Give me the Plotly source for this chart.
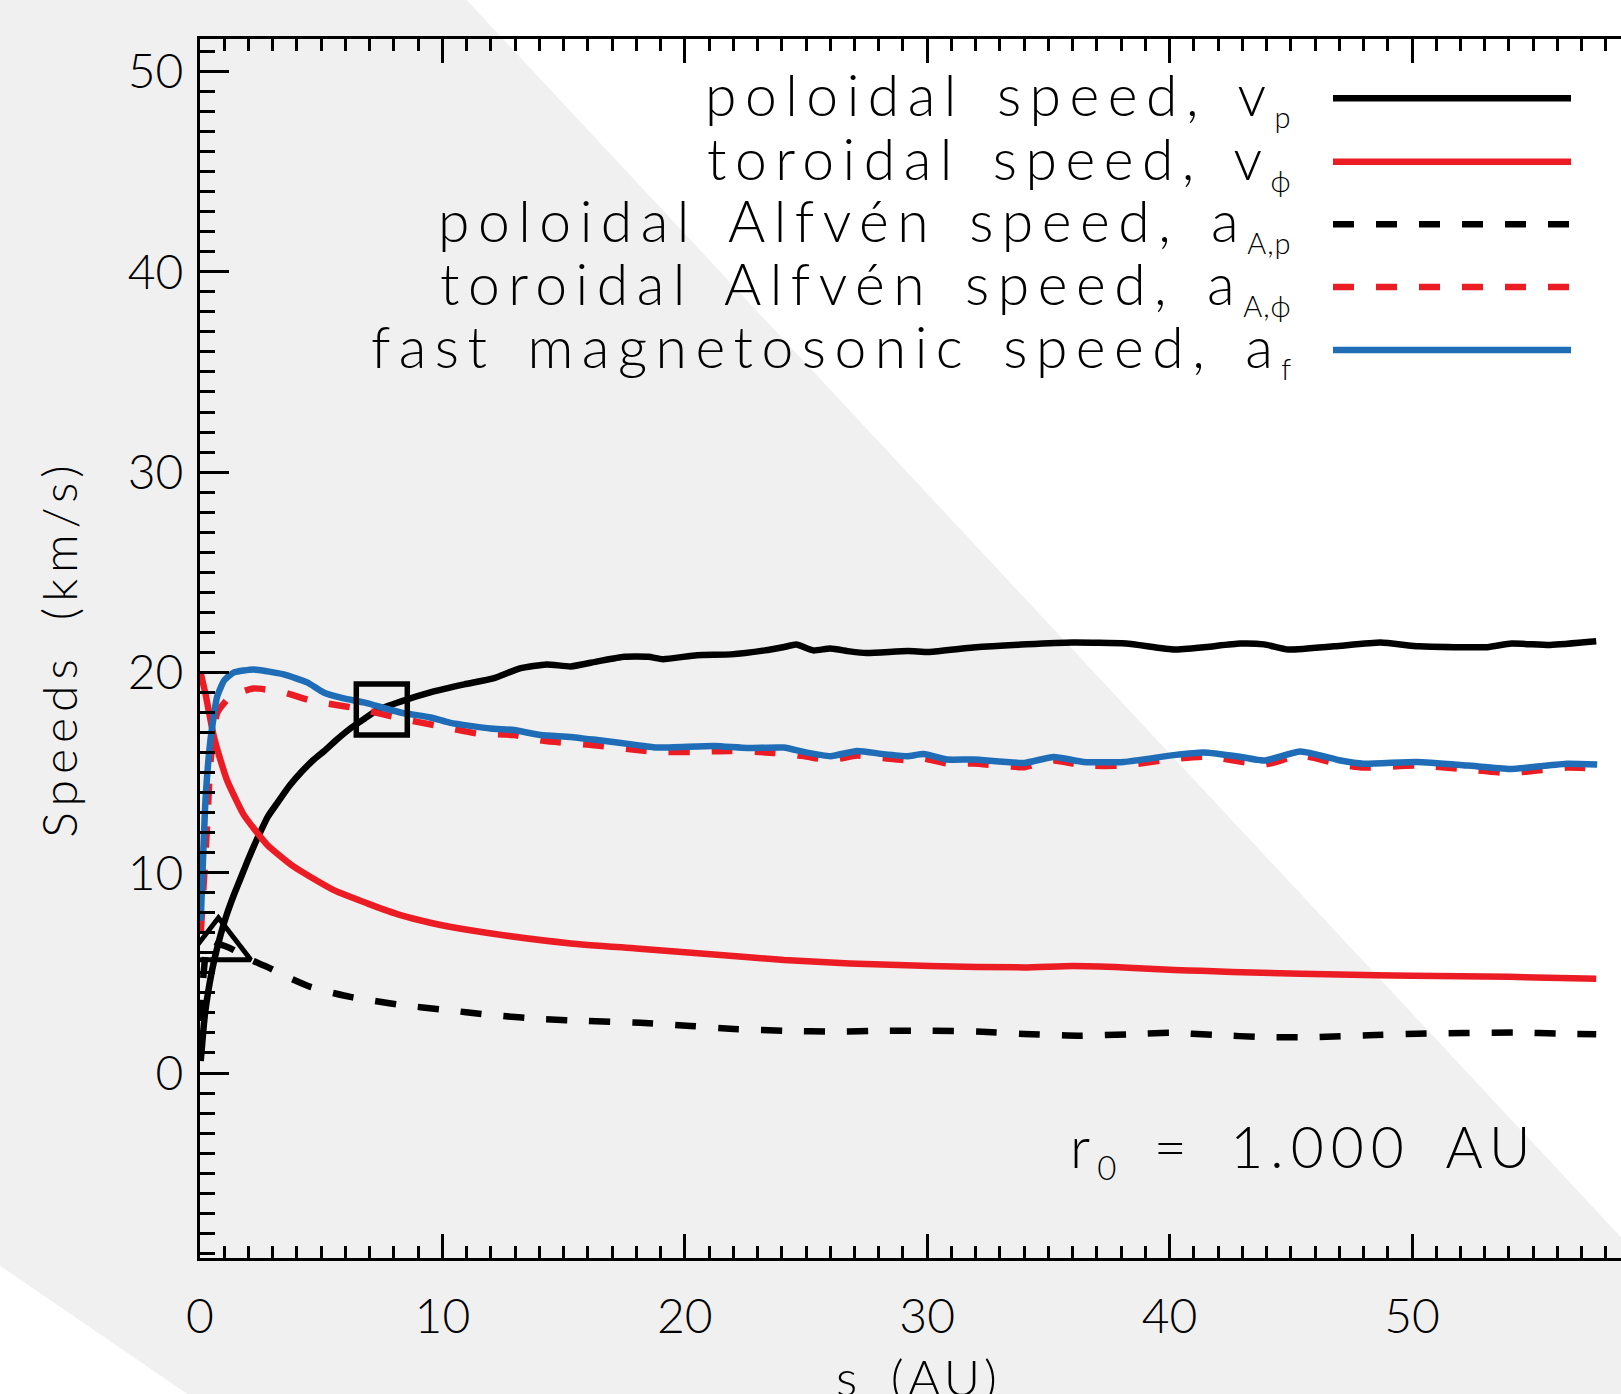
import plotly.graph_objects as go

# ---------------- data ----------------
s_vp = [0.03, 0.2, 0.4, 0.6, 0.85, 1.1, 1.4, 1.7, 2.0, 2.4, 2.8, 3.2, 3.7, 4.2, 4.7, 5.1, 5.6, 6.2, 6.8, 7.3,
        8.3, 9.5, 10.9, 12.1, 13.2, 14.3, 15.3, 16.4, 17.5, 18.5, 19.1, 20.5, 21.9, 23.3, 24.1, 24.6, 25.3, 26.0,
        26.8, 27.5, 29.2, 30.1, 31.9, 34.1, 36.0, 38.2, 40.2, 41.5, 42.9, 43.9, 44.9, 46.8, 48.7, 50.3, 53.1,
        54.1, 55.7, 57.6]
v_p = [0.6, 2.9, 4.5, 5.7, 6.9, 7.9, 8.9, 9.8, 10.7, 11.8, 12.8, 13.5, 14.35, 15.05, 15.65, 16.05, 16.6, 17.2, 17.7, 18.1,
       18.55, 19.0, 19.4, 19.7, 20.2, 20.4, 20.3, 20.55, 20.78, 20.78, 20.66, 20.86, 20.9, 21.1, 21.27, 21.39, 21.1, 21.19,
       21.05, 20.97, 21.07, 21.02, 21.24, 21.4, 21.49, 21.44, 21.14, 21.27, 21.44, 21.4, 21.14, 21.3, 21.49, 21.3, 21.26,
       21.44, 21.37, 21.55]

s_vphi = [0.03, 0.23, 0.57, 0.85, 1.12, 1.8, 2.77, 3.87, 5.52, 6.9, 8.27, 9.5, 10.3, 12.1, 15.3, 18.0, 21.2, 24.1,
          26.8, 30.1, 34.0, 36.0, 38.1, 40.2, 41.3, 43.8, 47.0, 50.0, 54.0, 57.6]
v_phi = [19.95, 18.9, 16.8, 15.6, 14.6, 12.9, 11.4, 10.3, 9.13, 8.47, 7.88, 7.5, 7.3, 6.95, 6.47, 6.22, 5.92, 5.64,
         5.47, 5.34, 5.27, 5.34, 5.27, 5.14, 5.1, 5.0, 4.92, 4.85, 4.8, 4.7]

s_aAp = [0.03, 0.15, 0.3, 0.5, 0.76, 1.0, 1.4, 2.0, 2.77, 3.6, 4.56, 5.3, 6.2, 7.2, 8.27, 9.9, 12.05, 14.25, 15.97,
         18.17, 20.23, 22.02, 24.08, 26.29, 28.07, 30.14, 32.27, 33.99, 36.2, 38.25, 40.0, 41.85, 43.9, 46.0, 48.2,
         50.2, 52.2, 54.2, 56.3, 57.6]
a_Ap = [2.6, 5.0, 6.4, 6.6, 6.45, 6.35, 6.14, 5.7, 5.3, 4.8, 4.3, 4.05, 3.8, 3.6, 3.4, 3.18, 2.89, 2.68, 2.6,
        2.51, 2.35, 2.2, 2.11, 2.06, 2.11, 2.11, 2.06, 1.95, 1.86, 1.93, 2.01, 1.9, 1.79, 1.79, 1.88,
        1.96, 2.0, 2.02, 1.96, 1.93]

s_aAphi = [0.03, 0.16, 0.3, 0.43, 0.71, 1.26, 2.2, 3.45, 4.56, 5.5, 6.5, 8.27, 9.65, 11.43, 12.95, 14.18, 15.97,
           18.04, 18.86, 20.23, 21.89, 23.67, 24.9, 26.01, 27.11, 28.2, 29.17, 29.86, 30.82, 31.92, 33.99, 35.22,
           36.46, 38.11, 40.17, 41.55, 43.9, 45.4, 47.05, 48.0, 50.2, 52.3, 54.06, 56.4, 57.64]
a_Aphi = [6.97, 9.6, 12.5, 15.5, 17.97, 18.8, 19.2, 19.0, 18.6, 18.4, 18.2, 17.7, 17.37, 16.95, 16.87, 16.58, 16.4,
          16.12, 16.03, 16.03, 16.08, 15.98, 15.82, 15.62, 15.85, 15.72, 15.62, 15.7, 15.45, 15.45, 15.27, 15.6,
          15.35, 15.35, 15.68, 15.8, 15.4, 15.85, 15.4, 15.25, 15.35, 15.15, 14.98, 15.25, 15.2]

s_af = [0.03, 0.09, 0.23, 0.43, 0.71, 1.0, 1.4, 2.2, 2.8, 3.45, 4.42, 5.1, 5.93, 6.76, 8.27, 9.51, 10.33, 11.98,
        12.95, 14.05, 15.28, 16.39, 18.04, 18.86, 21.2, 22.57, 24.08, 24.91, 26.01, 27.11, 28.2, 29.17, 29.86,
        30.82, 31.92, 33.99, 35.22, 36.46, 38.11, 40.17, 41.4, 42.9, 43.9, 45.4, 47.05, 48.0, 50.2, 52.3, 54.06,
        56.4, 57.64]
a_f = [7.6, 9.6, 13.7, 16.6, 18.8, 19.6, 20.0, 20.15, 20.05, 19.9, 19.5, 19.0, 18.7, 18.5, 18.0, 17.75, 17.48, 17.2,
       17.12, 16.87, 16.78, 16.62, 16.37, 16.25, 16.33, 16.23, 16.25, 16.03, 15.82, 16.08, 15.92, 15.82, 15.92,
       15.65, 15.65, 15.48, 15.78, 15.53, 15.53, 15.87, 16.0, 15.79, 15.6, 16.05, 15.6, 15.44, 15.53, 15.35, 15.18,
       15.44, 15.4]

# critical points: Alfven point (triangle) and fast point (square)
s_alfven = [0.76]
v_alfven = [6.35]
s_fast = [7.5]
v_fast = [18.15]

legend_main = [
    "poloidal speed, v",
    "toroidal speed, v",
    "poloidal Alfv\u00e9n speed, a",
    "toroidal Alfv\u00e9n speed, a",
    "fast magnetosonic speed, a",
]
legend_sub = ["p", "\u03d5", "A,p", "A,\u03d5", "f"]
x_title = "s (AU)"
y_title = "Speeds (km/s)"
r0_main = ["r", " = 1.000 AU"]
r0_sub = "0"

# ---------------- styles / geometry ----------------
W, H = 1621, 1394
L, R, T, B = 200, 1621, 39, 1258
XR = [0, (R - L) / 24.24]
YR = [(1073 - B) / 20.03, (1073 - T) / 20.03]

BLACK = "#000000"
RED = "#ec1c24"
BLUE = "#1f6db7"
GRAY = "#f0f0f0"
LW = 6.5
DASH = "21px,22px"
FONT = "Lato"


def pxx(px):
    return (px - L) / (R - L)


def pxy(py):
    return (B - py) / (B - T)


def spaced(txt, ls, ws):
    return '<span style="letter-spacing:%spx;word-spacing:%spx">%s</span>' % (ls, ws, txt)


def small_sub(txt, size, ls):
    return '<sub><span style="font-size:%dpx;letter-spacing:%spx">%s</span></sub>' % (size, ls, txt)


fig = go.Figure()

series = [
    (s_vp, v_p, BLACK, "solid"),
    (s_vphi, v_phi, RED, "solid"),
    (s_aAp, a_Ap, BLACK, DASH),
    (s_aAphi, a_Aphi, RED, DASH),
    (s_af, a_f, BLUE, "solid"),
]
for (sx, sy, col, dash), name in zip(series, legend_main):
    fig.add_trace(go.Scatter(x=sx, y=sy, mode="lines", name=name, showlegend=False,
                             line=dict(color=col, width=LW, dash=dash, shape="spline", smoothing=0.5),
                             hoverinfo="skip"))

fig.add_trace(go.Scatter(x=s_alfven, y=v_alfven, mode="markers", showlegend=False, hoverinfo="skip",
                         marker=dict(symbol="triangle-up-open", size=56, color=BLACK,
                                     line=dict(width=5, color=BLACK))))
fig.add_trace(go.Scatter(x=s_fast, y=v_fast, mode="markers", showlegend=False, hoverinfo="skip",
                         marker=dict(symbol="square-open", size=51, color=BLACK,
                                     line=dict(width=5.5, color=BLACK))))

shapes = []
# light gray background band (tilted), extended past the page edges
band = [(-20, -20), (448, -20), (1700, 1322), (1700, 1450), (269, 1450), (-20, 1252)]
path = "M " + " L ".join("%.5f,%.5f" % (pxx(a), pxy(b)) for a, b in band) + " Z"
shapes.append(dict(type="path", path=path, xref="paper", yref="paper", fillcolor=GRAY,
                   line=dict(width=0), layer="below"))

# legend samples
leg_y = [98.3, 161.7, 224.3, 287.0, 350.0]
for (sx, sy, col, dash), yy in zip(series, leg_y):
    shapes.append(dict(type="line", xref="paper", yref="paper", x0=pxx(1333), x1=pxx(1571),
                       y0=pxy(yy), y1=pxy(yy), line=dict(color=col, width=LW, dash=dash)))

annotations = []
for lab, sub, yy in zip(legend_main, legend_sub, leg_y):
    annotations.append(dict(text=spaced(lab + small_sub(sub, 29, 1), 8.5, 8), xref="paper", yref="paper",
                            x=pxx(1294), y=pxy(yy - 1),
                            xanchor="right", yanchor="middle", showarrow=False,
                            font=dict(family=FONT, size=57, color=BLACK, weight=300)))
annotations.append(dict(text=spaced(r0_main[0] + small_sub(r0_sub, 33, 1) + r0_main[1], 7, 14),
                        xref="paper", yref="paper", x=pxx(1068), y=pxy(1149),
                        xanchor="left", yanchor="middle", showarrow=False,
                        font=dict(family=FONT, size=57, color=BLACK, weight=300)))
# x-axis title (sits low, partly cut by the page edge as in the reference)
annotations.append(dict(text=spaced(x_title, 4, 12), xref="paper", yref="paper", x=pxx(919), y=pxy(1345),
                        xanchor="center", yanchor="top", showarrow=False,
                        font=dict(family=FONT, size=50, color=BLACK, weight=300)))

axis_font = dict(family=FONT, size=48, color=BLACK, weight=300)
fig.update_layout(
    width=W, height=H,
    margin=dict(l=L, r=W - R, t=T, b=H - B, pad=0, autoexpand=False),
    paper_bgcolor="white", plot_bgcolor="rgba(0,0,0,0)",
    shapes=shapes, annotations=annotations,
    xaxis=dict(range=XR, automargin=False, showgrid=False, zeroline=False, showline=True, linecolor=BLACK,
               linewidth=3, mirror="ticks", ticks="inside", ticklen=24, tickwidth=3, tickcolor=BLACK,
               tickmode="linear", tick0=0, dtick=10, tickfont=axis_font, ticklabelstandoff=14,
               minor=dict(ticks="inside", dtick=1, tick0=0, ticklen=12, tickwidth=3, tickcolor=BLACK, showgrid=False)),
    yaxis=dict(range=YR, automargin=False, showgrid=False, zeroline=False, showline=True, linecolor=BLACK,
               linewidth=3, ticks="inside", ticklen=29, tickwidth=3, tickcolor=BLACK,
               tickmode="linear", tick0=0, dtick=10, tickfont=axis_font, ticklabelstandoff=4,
               minor=dict(ticks="inside", dtick=1, tick0=0, ticklen=15, tickwidth=3, tickcolor=BLACK, showgrid=False),
               title=dict(text=spaced(y_title, 6, 14), font=dict(family=FONT, size=48, color=BLACK, weight=300),
                          standoff=35)),
    yaxis2=dict(range=YR, automargin=False, overlaying="y", side="right", anchor="x", showgrid=False,
                zeroline=False, showline=False, ticks="inside", ticklen=11, tickwidth=3, tickcolor=BLACK,
                tickmode="linear", tick0=0, dtick=10, showticklabels=False),
)

fig.write_html("out.html")
